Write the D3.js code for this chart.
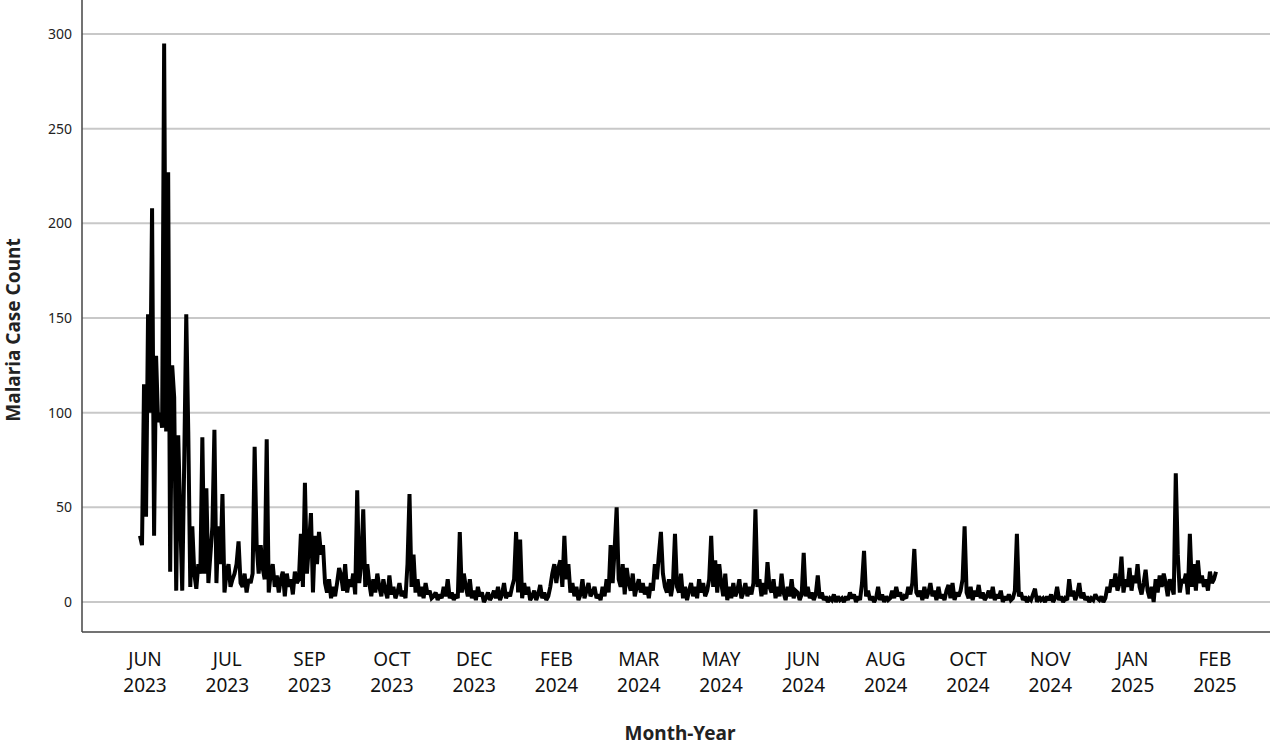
<!DOCTYPE html>
<html><head><meta charset="utf-8">
<script src="https://cdn.jsdelivr.net/npm/d3@7"></script>
<style>body{margin:0;background:#fff}svg{display:block;font-family:"Noto Sans","Open Sans",sans-serif}</style>
</head><body><svg id="c" width="1280" height="747"></svg>
<script>
// Malaria case counts (2-day sampling), Jun 2023 – Feb 2025
const cases = [
35,30,115,45,152,100,208,35,130,95,100,92,295,90,227,16,125,108,6,88,45,6,75,152,90,8,40,15,7,20,15,87,15,60,10,25,40,91,10,40,20,57,5,15,20,8,12,15,20,32,10,8,15,5,12,10,15,82,30,15,30,18,12,86,5,15,
20,8,14,5,12,16,3,15,8,12,4,16,10,12,36,8,63,15,30,47,5,35,20,37,25,30,10,5,12,2,8,3,10,18,14,6,20,5,12,8,15,4,59,10,20,49,8,20,10,3,12,5,15,8,3,12,6,2,14,4,8,2,5,10,3,6,2,20,57,8,25,5,12,3,8,2,10,4,6,2,3,5,1,4,2,8,3,12,2,5,1,4,2,37,5,15,8,3,12,2,6,1,8,3,5,0,2,5,1,3,
6,2,8,1,4,10,2,5,3,8,12,37,5,33,2,10,4,8,1,3,6,1,4,9,2,5,1,3,8,15,20,10,18,22,8,35,12,20,5,10,3,8,1,4,12,2,6,10,3,5,8,2,4,1,8,3,12,5,30,10,28,50,12,8,20,4,18,10,6,15,3,8,12,5,10,4,8,2,10,6,20,12,25,37,15,8,5,12,3,10,36,8,5,15,2,8,1,6,10,3,8,2,12,5,10,3,6,12,35,8,22,5,20,10,3,15,1,8,2,10,3,6,12,2,5,10,3,8,4,10,49,8,12,3,10,4,21,8,5,12,2,8,3,15,5,1,8,3,12,2,6,
5,1,4,26,3,8,2,5,1,4,14,2,5,1,3,0,2,1,4,0,3,1,2,0,3,1,5,2,4,0,3,1,10,27,3,6,1,3,0,2,8,1,4,0,3,1,2,6,2,8,3,5,1,3,2,8,4,10,28,5,3,6,1,8,2,5,10,3,6,1,8,2,4,1,6,9,2,10,1,5,3,6,12,40,5,2,8,1,6,3,9,2,5,1,3,6,2,8,1,4,2,6,0,3,1,4,1,2,6,36,3,5,1,3,0,2,1,4,7,0,3,1,2,0,3,1,4,0,2,8,1,3,0,2,1,12,3,6,1,4,10,2,5,1,3,0,2,1,4,2,1,3,0,2,8,5,12,8,15,6,10,24,5,12,8,18,6,14,10,20,8,4,10,17,6,2,8,0,12,5,14,8,15,10,3,12,8,4,68,25,5,12,10,15,4,36,8,20,6,22,10,14,8,12,6,16,10,12,16
];
const yTicks = [0,50,100,150,200,250,300];
const xTickMonths = ["JUN","JUL","SEP","OCT","DEC","FEB","MAR","MAY","JUN","AUG","OCT","NOV","JAN","FEB"];
const xTickYears  = ["2023","2023","2023","2023","2023","2024","2024","2024","2024","2024","2024","2024","2025","2025"];

const svg = d3.select("#c");
const L=82, R=1270, B=632;
const n = cases.length;
const x = d3.scaleLinear().domain([0, n-1]).range([140, 1216]);
const y = d3.scaleLinear().domain([0,300]).range([602,34]);
const step = 82.3/((1216-140)/(n-1));
const tickIdx = xTickMonths.map((_,k)=> x.invert(145) + k*step);

svg.append("g").selectAll("line").data(yTicks).join("line")
  .attr("x1",L).attr("x2",R).attr("y1",d=>y(d)).attr("y2",d=>y(d))
  .attr("stroke","#c8c8c8").attr("stroke-width",2);
svg.append("g").selectAll("text").data(yTicks).join("text")
  .attr("x",72).attr("y",d=>y(d)+5).attr("text-anchor","end")
  .attr("font-size",14).attr("fill","#222").text(d=>d);

svg.append("line").attr("x1",L).attr("x2",L).attr("y1",0).attr("y2",B).attr("stroke","#444").attr("stroke-width",1.5);
svg.append("line").attr("x1",L).attr("x2",R).attr("y1",B).attr("y2",B).attr("stroke","#444").attr("stroke-width",1.5);

const xt = svg.append("g").selectAll("g").data(tickIdx).join("g")
  .attr("transform",d=>`translate(${x(d)},0)`);
xt.append("text").attr("y",666).attr("text-anchor","middle").attr("font-size",19).attr("fill","#111").text((d,i)=>xTickMonths[i]);
xt.append("text").attr("y",692).attr("text-anchor","middle").attr("font-size",19).attr("fill","#111").text((d,i)=>xTickYears[i]);

svg.append("path").datum(cases)
  .attr("d", d3.line().x((d,i)=>x(i)).y(d=>y(d)))
  .attr("fill","none").attr("stroke","#000").attr("stroke-width",4).attr("stroke-linejoin","miter").attr("stroke-miterlimit",2);

svg.append("text").attr("x",680).attr("y",740).attr("text-anchor","middle")
  .attr("font-size",19).attr("font-weight","bold").attr("fill","#222").text("Month-Year");
svg.append("text").attr("transform","translate(20,330) rotate(-90)").attr("text-anchor","middle")
  .attr("font-size",19).attr("font-weight","bold").attr("fill","#222").text("Malaria Case Count");
</script></body></html>
